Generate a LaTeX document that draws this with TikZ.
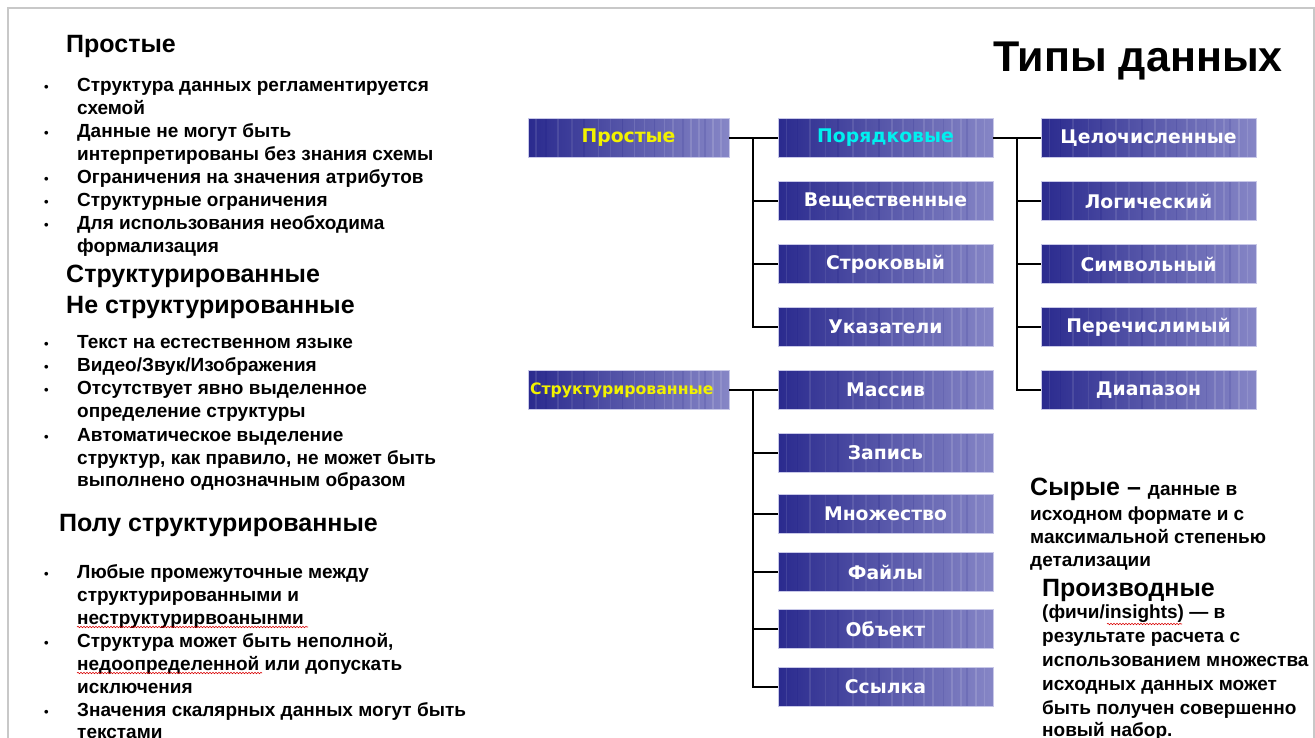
\documentclass[tikz,border=0pt]{standalone}
\usepackage{fontspec}
\setmainfont{Liberation Sans}
\newfontfamily\boxfont{DejaVu Sans}
\usetikzlibrary{calc,decorations.pathmorphing}
\definecolor{boxL}{HTML}{2A2A8E}
\definecolor{boxM}{HTML}{4E4EA4}
\definecolor{boxR}{HTML}{8686C6}
\definecolor{boxEdge}{HTML}{C8C8E8}
\definecolor{frameGray}{HTML}{C8C8C8}
\definecolor{ylw}{HTML}{F2F200}
\definecolor{cyn}{HTML}{00F0F0}
\begin{document}
\begin{tikzpicture}[x=1pt,y=-1pt,
  stripes/.style={path picture={
    \foreach \f/\c/\o in {0.04/white/0.10,0.09/boxL/0.5,0.15/white/0.10,0.22/white/0.08,0.28/boxL/0.3,0.35/white/0.10,0.41/white/0.08,0.47/boxL/0.25,0.53/white/0.12,0.58/white/0.10,0.63/boxL/0.2,0.68/white/0.12,0.72/white/0.12,0.77/boxL/0.15,0.81/white/0.14,0.85/white/0.12,0.88/boxL/0.15,0.92/white/0.14,0.96/white/0.12}{
      \draw[\c, opacity=\o, line width=1.6pt]
        ($(path picture bounding box.south west)!\f!(path picture bounding box.south east)$) --
        ($(path picture bounding box.north west)!\f!(path picture bounding box.north east)$);
    }}},
  tbox/.style={rectangle, minimum width=215pt, minimum height=39pt, inner sep=0pt,
    draw=boxEdge, line width=0.8pt, left color=boxL, middle color=boxM, right color=boxR,
    stripes, text=white, font=\boxfont\bfseries\fontsize{18.8}{19}\selectfont},
  rootbox/.style={tbox, minimum width=201pt},
  conn/.style={draw=black, line width=1.8pt},
  tl/.style={anchor=base west, inner sep=0pt, font=\bfseries\fontsize{19}{21}\selectfont},
  hd/.style={anchor=base west, inner sep=0pt, font=\bfseries\fontsize{25}{28}\selectfont},
  bul/.style={anchor=base west, inner sep=0pt, font=\bfseries\fontsize{13}{15}\selectfont},
  spell/.style={draw=red!85!black, line width=0.6pt, decorate, decoration={snake, amplitude=0.7pt, segment length=3pt}}
]
\useasboundingbox (0,0) rectangle (1315,738);
% slide frame
\draw[frameGray, line width=1.5pt] (8,738) -- (8,8) -- (1314,8) -- (1314,738);

% title
\node[anchor=base west, inner sep=0pt, font=\bfseries\fontsize{43}{46}\selectfont] (title) at (993,72) {Типы данных};

% ---------- tree ----------
\node[rootbox, text=ylw] (simple) at (628.5,138) {Простые};
\node[rootbox, text=ylw, text width=197pt, align=left, font=\boxfont\bfseries\fontsize{15.7}{16}\selectfont] (struct) at (628.5,390) {Структурированные};

\node[tbox, text=cyn] (ord) at (885.5,138) {Порядковые};
\node[tbox] (real) at (885.5,201) {Вещественные};
\node[tbox] (str) at (885.5,264) {Строковый};
\node[tbox] (ptr) at (885.5,327) {Указатели};
\node[tbox] (arr) at (885.5,390) {Массив};
\node[tbox] (rec) at (885.5,453) {Запись};
\node[tbox] (set) at (885.5,514) {Множество};
\node[tbox] (fil) at (885.5,572) {Файлы};
\node[tbox] (obj) at (885.5,629) {Объект};
\node[tbox] (lnk) at (885.5,687) {Ссылка};

\node[tbox] (int) at (1148.5,138) {Целочисленные};
\node[tbox] (bool) at (1148.5,201) {Логический};
\node[tbox] (chr) at (1148.5,264) {Символьный};
\node[tbox] (enm) at (1148.5,327) {Перечислимый};
\node[tbox] (rng) at (1148.5,390) {Диапазон};

\coordinate (tA) at (753,138);
\coordinate (tB) at (753,390);
\coordinate (tC) at (1017,138);

\draw[conn] (simple.east) -- (ord.west);
\foreach \n in {real,str,ptr} \draw[conn] (tA) |- (\n.west);
\draw[conn] (struct.east) -- (arr.west);
\foreach \n in {rec,set,fil,obj,lnk} \draw[conn] (tB) |- (\n.west);
\draw[conn] (ord.east) -- (int.west);
\foreach \n in {bool,chr,enm,rng} \draw[conn] (tC) |- (\n.west);

% ---------- left text ----------
\node[hd] (h1) at (66,53) {Простые};
\node[bul] (b1) at (44,92) {•};
\node[tl] (l1) at (77,92) {Структура данных регламентируется};
\node[tl] (l2) at (77,115) {схемой};
\node[bul] (b2) at (44,138) {•};
\node[tl] (l3) at (77,138) {Данные не могут быть};
\node[tl] (l4) at (77,161) {интерпретированы без знания схемы};
\node[bul] (b3) at (44,184) {•};
\node[tl] (l5) at (77,184) {Ограничения на значения атрибутов};
\node[bul] (b4) at (44,207) {•};
\node[tl] (l6) at (77,207) {Структурные ограничения};
\node[bul] (b5) at (44,230) {•};
\node[tl] (l7) at (77,230) {Для использования необходима};
\node[tl] (l8) at (77,253) {формализация};

\node[hd] (h2) at (66,283) {Структурированные};
\node[hd] (h3) at (66,313) {Не структурированные};
\node[bul] (b6) at (44,348) {•};
\node[tl] (l9) at (77,348) {Текст на естественном языке};
\node[bul] (b7) at (44,371) {•};
\node[tl] (l10) at (77,371) {Видео/Звук/Изображения};
\node[bul] (b8) at (44,394) {•};
\node[tl] (l11) at (77,394) {Отсутствует явно выделенное};
\node[tl] (l12) at (77,417) {определение структуры};
\node[bul] (b9) at (44,441) {•};
\node[tl] (l13) at (77,441) {Автоматическое выделение};
\node[tl] (l14) at (77,464) {структур, как правило, не может быть};
\node[tl] (l15) at (77,486) {выполнено однозначным образом};

\node[hd] (h4) at (59,531) {Полу структурированные};
\node[bul] (b10) at (44,578) {•};
\node[tl] (l16) at (77,578) {Любые промежуточные между};
\node[tl] (l17) at (77,601) {структурированными и};
\node[tl] (l18) at (77,624) {неструктурирвоанынми};
\node[bul] (b11) at (44,647) {•};
\node[tl] (l19) at (77,647) {Структура может быть неполной,};
\node[tl] (l20) at (77,670) {недоопределенной или допускать};
\node[tl] (l21) at (77,693) {исключения};
\node[bul] (b12) at (44,716) {•};
\node[tl] (l22) at (77,716) {Значения скалярных данных могут быть};
\node[tl] (l23) at (77,738) {текстами};

% spell-check underlines
\draw[spell] (77,627) -- (308,627);
\draw[spell] (77,673) -- (262,673);

% ---------- right text ----------
\node[anchor=base west, inner sep=0pt] (r1) at (1030,495) {\bfseries\fontsize{25}{28}\selectfont Сырые – \fontsize{19}{21}\selectfont данные в};
\node[tl] (r2) at (1030,520) {исходном формате и с};
\node[tl] (r3) at (1030,543) {максимальной степенью};
\node[tl] (r4) at (1030,566) {детализации};
\node[hd] (r5) at (1042,596) {Производные};
\node[tl] (r6) at (1042,618) {(фичи/insights) — в};
\node[tl] (r7) at (1042,642) {результате расчета с};
\node[tl] (r8) at (1042,666) {использованием множества};
\node[tl] (r9) at (1042,690) {исходных данных может};
\node[tl] (r10) at (1042,714) {быть получен совершенно};
\node[tl] (r11) at (1042,736) {новый набор.};
\draw[spell] (1107,624) -- (1182,624);
\end{tikzpicture}
\end{document}
